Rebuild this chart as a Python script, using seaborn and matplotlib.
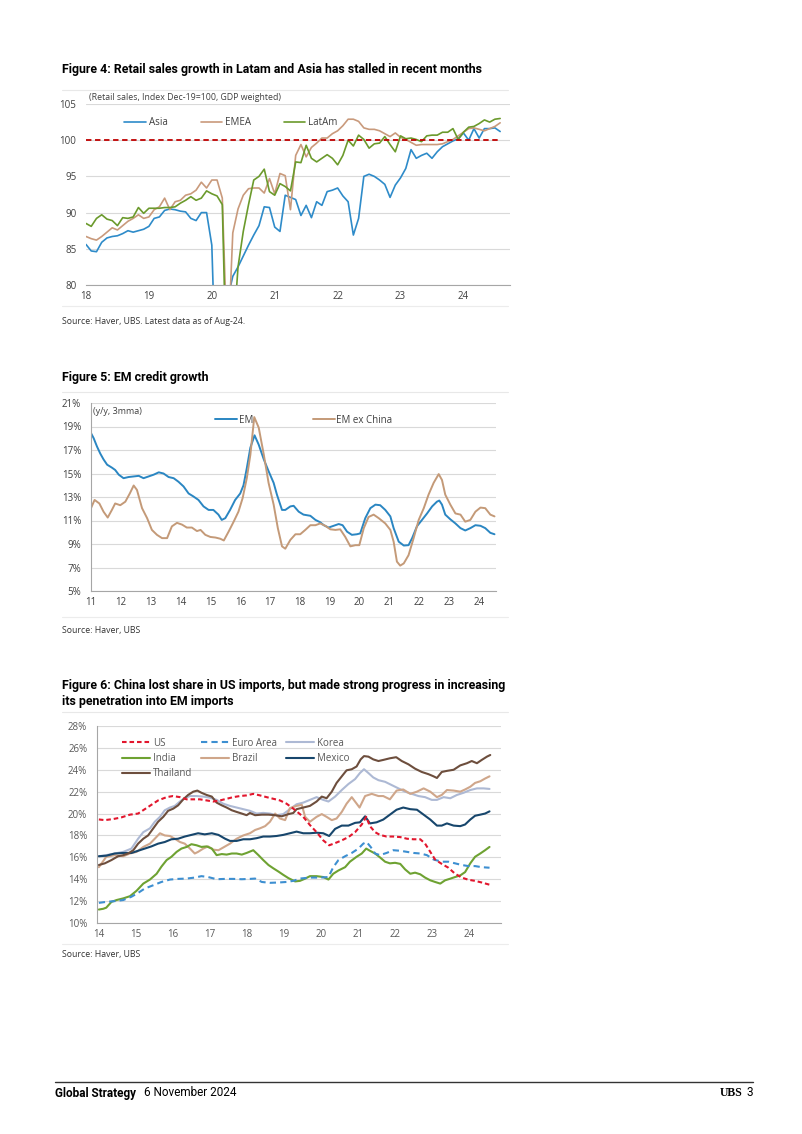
import matplotlib
matplotlib.use("Agg")
import matplotlib.pyplot as plt
import seaborn as sns

W, H = 802, 1134

# ---------------- Figure 4: retail sales index, monthly Jan-18 .. Aug-24 ----------------
retail_start_year = 18
retail_asia = [85.6, 84.7, 84.6, 85.9, 86.5, 86.7, 86.8, 87.1, 87.5, 87.3, 87.5, 87.7,
               88.1, 89.2, 89.4, 90.3, 90.5, 90.4, 90.2, 90.1, 89.2, 88.9, 90.0, 90.0,
               85.5, 62.0, 70.0, 78.0, 81.2, 82.5, 84.0, 85.5, 86.9, 88.2, 90.8, 90.7,
               88.0, 87.4, 92.4, 92.1, 91.8, 89.6, 91.0, 89.3, 91.5, 91.0, 92.9, 93.1,
               93.4, 92.3, 91.5, 86.9, 89.2, 95.0, 95.3, 95.0, 94.5, 93.9, 92.1, 93.8,
               94.8, 96.1, 98.7, 97.5, 97.9, 98.2, 97.5, 98.4, 99.1, 99.5, 99.9, 100.2,
               101.0, 100.0, 101.6, 100.3, 101.6, 101.6, 101.7, 101.2]
retail_emea = [86.7, 86.4, 86.2, 86.7, 87.3, 87.9, 87.6, 88.2, 88.8, 89.2, 89.7, 89.2,
               89.4, 90.4, 90.8, 92.0, 90.4, 91.5, 91.7, 92.4, 92.6, 93.1, 94.2, 93.4,
               94.5, 94.5, 92.0, 70.0, 87.2, 90.5, 92.4, 93.3, 93.4, 93.4, 92.7, 94.7,
               92.6, 95.4, 95.1, 90.4, 97.9, 99.4, 97.7, 99.0, 99.6, 100.3, 100.3, 100.9,
               101.3, 102.0, 102.9, 102.9, 102.6, 101.7, 101.5, 101.5, 101.3, 100.9, 100.5, 101.0,
               100.4, 100.1, 99.7, 99.3, 99.4, 99.4, 99.4, 99.4, 99.5, 99.8, 100.1, 100.6,
               101.1, 101.6, 101.7, 101.5, 101.3, 101.6, 101.9, 102.4]
retail_latam = [88.5, 88.1, 89.2, 89.7, 89.1, 88.9, 88.2, 89.3, 89.2, 89.4, 90.7, 89.9,
                90.6, 90.6, 90.6, 90.7, 90.7, 90.8, 91.3, 91.7, 92.2, 91.7, 92.0, 93.0,
                92.6, 92.3, 91.1, 62.0, 72.0, 82.5, 87.4, 91.1, 94.5, 95.0, 96.0, 92.9,
                92.4, 94.0, 93.6, 93.0, 97.0, 96.9, 99.3, 97.5, 97.0, 97.5, 98.0, 97.5,
                96.6, 97.9, 100.0, 99.2, 100.7, 100.1, 98.9, 99.5, 99.6, 100.5, 99.4, 98.4,
                100.6, 100.2, 100.3, 100.1, 99.8, 100.6, 100.7, 100.7, 101.1, 101.1, 101.6, 100.1,
                101.1, 101.8, 101.9, 102.3, 102.8, 102.5, 102.9, 103.0]
retail_base = 100

# ---------------- Figure 5: EM credit growth (y/y, 3mma), read as year / % pairs ----------------
em_t = [11.0, 11.09, 11.2, 11.31, 11.42, 11.54, 11.7, 11.81, 11.93, 12.09, 12.26, 12.43, 12.6,
        12.76, 12.93, 13.1, 13.27, 13.43, 13.6, 13.77, 13.93, 14.1, 14.27, 14.43, 14.6, 14.77,
        14.94, 15.1, 15.27, 15.38, 15.5, 15.66, 15.83, 16.0, 16.11, 16.22, 16.34, 16.48, 16.62,
        16.79, 16.95, 17.12, 17.23, 17.4, 17.51, 17.68, 17.79, 17.96, 18.12, 18.35, 18.52, 18.68,
        18.8, 18.96, 19.13, 19.3, 19.43, 19.58, 19.74, 19.91, 20.02, 20.19, 20.36, 20.53, 20.69,
        20.86, 21.03, 21.14, 21.31, 21.48, 21.64, 21.76, 21.92, 22.09, 22.26, 22.43, 22.59, 22.67,
        22.76, 22.87, 23.04, 23.21, 23.38, 23.54, 23.71, 23.88, 24.05, 24.21, 24.38, 24.52]
em = [18.44, 18.0, 17.3, 16.7, 16.2, 15.75, 15.5, 15.3, 14.9, 14.6, 14.7, 14.75, 14.8,
      14.6, 14.75, 14.9, 15.1, 15.0, 14.7, 14.6, 14.3, 13.9, 13.3, 13.05, 12.75, 12.2,
      11.9, 11.9, 11.5, 11.05, 11.2, 11.9, 12.75, 13.3, 14.0, 15.45, 17.2, 18.25, 17.45,
      16.2, 15.2, 14.2, 13.2, 11.9, 11.9, 12.2, 12.25, 11.75, 11.5, 11.4, 11.05, 10.85,
      10.6, 10.4, 10.55, 10.7, 10.6, 10.05, 9.78, 9.83, 9.9, 11.2, 12.05, 12.35, 12.3,
      11.9, 11.35, 10.35, 9.2, 8.87, 8.9, 9.5, 10.5, 11.05, 11.6, 12.2, 12.6, 12.7,
      12.35, 11.5, 11.1, 10.75, 10.35, 10.15, 10.35, 10.6, 10.55, 10.35, 9.95, 9.83]
exchina_t = [11.0, 11.12, 11.28, 11.42, 11.56, 11.7, 11.81, 11.98, 12.15, 12.3, 12.43, 12.54,
             12.71, 12.88, 13.04, 13.21, 13.38, 13.55, 13.71, 13.88, 14.05, 14.21, 14.38, 14.55,
             14.67, 14.83, 15.0, 15.17, 15.33, 15.45, 15.61, 15.78, 15.94, 16.08, 16.22, 16.34,
             16.47, 16.62, 16.79, 16.95, 17.12, 17.26, 17.4, 17.51, 17.68, 17.85, 18.01, 18.18,
             18.35, 18.52, 18.68, 18.85, 19.02, 19.19, 19.35, 19.52, 19.69, 19.86, 19.99, 20.14,
             20.3, 20.47, 20.64, 20.86, 21.03, 21.14, 21.25, 21.36, 21.48, 21.64, 21.81, 21.98,
             22.15, 22.31, 22.48, 22.65, 22.76, 22.87, 23.04, 23.21, 23.38, 23.54, 23.71, 23.88,
             24.05, 24.21, 24.38, 24.52]
exchina = [12.05, 12.75, 12.45, 11.75, 11.25, 11.9, 12.45, 12.3, 12.6, 13.3, 13.98, 13.6,
           12.05, 11.2, 10.2, 9.78, 9.5, 9.5, 10.5, 10.8, 10.65, 10.4, 10.4, 10.1,
           10.2, 9.78, 9.6, 9.55, 9.45, 9.3, 10.05, 10.9, 11.75, 12.9, 14.6, 16.6,
           19.8, 18.9, 16.6, 14.2, 12.35, 10.35, 8.8, 8.6, 9.35, 9.83, 9.83, 10.2,
           10.6, 10.6, 10.75, 10.55, 10.25, 10.2, 10.25, 9.6, 8.8, 8.9, 8.9, 10.35,
           11.3, 11.5, 11.2, 10.75, 10.2, 9.2, 7.5, 7.16, 7.35, 8.05, 9.5, 11.05,
           12.05, 13.2, 14.2, 14.95, 14.45, 13.2, 12.35, 11.6, 11.5, 10.9, 11.05, 11.75,
           12.1, 12.05, 11.5, 11.35]

# ---------------- Figure 6: China's share in imports (%), read as year / % pairs ----------------
us_t = [14.0, 14.16, 14.39, 14.61, 14.84, 15.06, 15.24, 15.42, 15.6, 15.83, 16.0, 16.19, 16.37,
        16.55, 16.73, 16.91, 17.09, 17.27, 17.45, 17.63, 17.81, 17.99, 18.17, 18.35, 18.53,
        18.71, 18.89, 19.07, 19.25, 19.52, 19.7, 19.88, 20.06, 20.22, 20.38, 20.56, 20.74,
        20.92, 21.1, 21.22, 21.32, 21.46, 21.59, 21.77, 21.95, 22.14, 22.32, 22.5, 22.68,
        22.81, 22.95, 23.08, 23.26, 23.44, 23.62, 23.8, 23.98, 24.16, 24.34, 24.55]
us = [19.46, 19.4, 19.5, 19.65, 19.9, 20.0, 20.4, 20.8, 21.2, 21.5, 21.6, 21.5, 21.3,
      21.3, 21.3, 21.2, 21.1, 21.2, 21.35, 21.5, 21.6, 21.66, 21.8, 21.66, 21.5,
      21.35, 21.2, 20.9, 20.45, 19.7, 18.95, 18.3, 17.55, 17.1, 17.3, 17.55, 17.85,
      18.3, 19.0, 19.7, 18.85, 18.3, 18.05, 17.9, 17.9, 17.85, 17.7, 17.65, 17.65,
      17.25, 16.5, 15.8, 15.4, 15.05, 14.5, 14.15, 13.95, 13.85, 13.7, 13.5]
euro_t = [14.0, 14.2, 14.43, 14.66, 14.88, 15.06, 15.24, 15.47, 15.69, 15.92, 16.14, 16.37,
          16.59, 16.77, 16.95, 17.18, 17.41, 17.63, 17.86, 18.08, 18.22, 18.4, 18.62, 18.85,
          19.07, 19.25, 19.43, 19.7, 19.97, 20.2, 20.33, 20.47, 20.65, 20.83, 21.01, 21.14,
          21.23, 21.34, 21.46, 21.59, 21.77, 21.95, 22.14, 22.32, 22.5, 22.68, 22.86, 23.04,
          23.26, 23.44, 23.62, 23.8, 23.98, 24.16, 24.34, 24.55]
euro = [11.84, 11.93, 12.0, 12.1, 12.4, 12.75, 13.15, 13.45, 13.75, 13.97, 14.03, 14.06,
        14.15, 14.28, 14.2, 14.0, 14.03, 14.03, 14.0, 14.03, 14.06, 13.75, 13.67, 13.7,
        13.75, 13.85, 14.06, 14.15, 14.15, 14.2, 15.1, 15.75, 16.1, 16.4, 16.8, 17.25,
        17.4, 16.95, 16.35, 16.2, 16.4, 16.65, 16.6, 16.5, 16.4, 16.35, 16.2, 15.8,
        15.6, 15.6, 15.45, 15.3, 15.2, 15.2, 15.1, 15.05]
korea_t = [14.0, 14.2, 14.43, 14.66, 14.88, 15.06, 15.2, 15.38, 15.51, 15.65, 15.78, 15.92,
           16.05, 16.19, 16.32, 16.46, 16.64, 16.82, 17.0, 17.18, 17.36, 17.54, 17.72, 17.9,
           18.08, 18.26, 18.44, 18.62, 18.8, 18.98, 19.16, 19.34, 19.52, 19.7, 19.88, 20.06,
           20.2, 20.38, 20.56, 20.74, 20.92, 21.05, 21.16, 21.28, 21.41, 21.55, 21.73, 21.91,
           22.09, 22.27, 22.45, 22.63, 22.81, 22.99, 23.13, 23.31, 23.49, 23.67, 23.85, 24.03,
           24.21, 24.39, 24.55]
korea = [16.1, 16.2, 16.35, 16.5, 16.8, 17.7, 18.3, 18.65, 19.25, 19.7, 20.3, 20.55,
         20.7, 21.1, 21.4, 21.6, 21.6, 21.55, 21.45, 21.25, 20.9, 20.7, 20.55, 20.4,
         20.25, 20.0, 20.06, 20.0, 19.85, 19.95, 20.4, 20.85, 21.0, 21.25, 21.5, 21.25,
         21.1, 21.55, 22.15, 22.7, 23.15, 23.7, 24.05, 23.7, 23.3, 23.05, 22.9, 22.6,
         22.3, 22.0, 21.8, 21.6, 21.5, 21.25, 21.25, 21.5, 21.4, 21.7, 21.9, 22.15,
         22.3, 22.3, 22.25]
india_t = [14.0, 14.12, 14.2, 14.34, 14.48, 14.66, 14.84, 15.02, 15.2, 15.38, 15.56, 15.69,
           15.83, 15.96, 16.1, 16.23, 16.37, 16.5, 16.64, 16.77, 16.91, 17.05, 17.18, 17.32,
           17.45, 17.59, 17.72, 17.86, 17.99, 18.17, 18.31, 18.44, 18.58, 18.71, 18.85, 18.98,
           19.12, 19.3, 19.43, 19.57, 19.7, 19.88, 20.06, 20.2, 20.33, 20.47, 20.65, 20.78,
           20.96, 21.1, 21.22, 21.32, 21.46, 21.59, 21.73, 21.86, 22.0, 22.14, 22.27, 22.41,
           22.54, 22.68, 22.81, 22.95, 23.08, 23.22, 23.35, 23.49, 23.62, 23.76, 23.89, 24.03,
           24.16, 24.3, 24.43, 24.55]
india = [11.23, 11.3, 11.4, 11.93, 12.1, 12.25, 12.45, 12.95, 13.6, 13.97, 14.5, 15.15,
         15.75, 16.05, 16.5, 16.8, 16.95, 17.2, 17.1, 16.95, 17.0, 16.8, 16.2, 16.3,
         16.25, 16.35, 16.35, 16.25, 16.4, 16.65, 16.2, 15.75, 15.3, 15.0, 14.7, 14.4,
         14.1, 13.8, 13.85, 14.05, 14.28, 14.28, 14.2, 13.97, 14.5, 14.8, 15.1, 15.6,
         16.05, 16.35, 16.8, 16.6, 16.35, 16.0, 15.6, 15.45, 15.5, 15.4, 14.9, 14.5,
         14.6, 14.45, 14.15, 13.9, 13.75, 13.6, 13.9, 14.05, 14.2, 14.35, 14.65, 15.45,
         16.05, 16.35, 16.65, 16.95]
brazil_t = [14.0, 14.2, 14.43, 14.66, 14.84, 15.02, 15.2, 15.38, 15.51, 15.65, 15.78, 15.92,
            16.05, 16.19, 16.32, 16.46, 16.59, 16.68, 16.82, 16.95, 17.09, 17.23, 17.36, 17.54,
            17.72, 17.9, 18.08, 18.22, 18.35, 18.49, 18.62, 18.76, 18.89, 19.03, 19.16, 19.34,
            19.48, 19.57, 19.7, 19.88, 20.02, 20.15, 20.29, 20.42, 20.56, 20.69, 20.83, 21.04,
            21.19, 21.37, 21.55, 21.68, 21.86, 22.04, 22.22, 22.41, 22.59, 22.77, 22.95, 23.13,
            23.26, 23.4, 23.58, 23.76, 23.89, 24.03, 24.16, 24.3, 24.43, 24.55]
brazil = [15.1, 16.05, 16.2, 16.1, 16.35, 16.5, 16.95, 17.25, 17.7, 18.2, 18.0, 17.95,
          17.7, 17.4, 17.25, 16.8, 16.35, 16.5, 16.8, 17.0, 16.7, 16.65, 16.9, 17.25,
          17.7, 18.0, 18.2, 18.5, 18.65, 18.85, 19.25, 20.0, 19.55, 19.4, 20.5, 20.7,
          20.8, 19.7, 19.25, 19.7, 19.95, 19.7, 19.4, 19.55, 20.15, 20.9, 21.5, 20.55,
          21.6, 21.8, 21.6, 21.6, 21.3, 22.1, 22.2, 21.8, 22.0, 22.3, 22.0, 21.5,
          21.7, 22.15, 22.1, 22.0, 22.2, 22.45, 22.8, 22.95, 23.2, 23.4]
mexico_t = [14.0, 14.2, 14.43, 14.66, 14.88, 15.06, 15.24, 15.42, 15.6, 15.78, 15.96, 16.14,
            16.32, 16.5, 16.68, 16.86, 17.05, 17.23, 17.41, 17.54, 17.72, 17.9, 18.08, 18.26,
            18.44, 18.62, 18.8, 18.98, 19.16, 19.34, 19.52, 19.7, 19.88, 20.06, 20.22, 20.38,
            20.56, 20.74, 20.92, 21.05, 21.19, 21.32, 21.5, 21.68, 21.86, 22.04, 22.22, 22.41,
            22.59, 22.77, 22.95, 23.13, 23.26, 23.4, 23.58, 23.76, 23.89, 24.03, 24.16, 24.3,
            24.43, 24.55]
mexico = [16.1, 16.15, 16.35, 16.4, 16.4, 16.6, 16.8, 17.0, 17.25, 17.4, 17.65, 17.7,
          17.9, 18.05, 18.2, 18.1, 18.2, 18.05, 17.7, 17.5, 17.5, 17.65, 17.65, 17.75,
          17.9, 17.9, 17.95, 18.05, 18.2, 18.35, 18.2, 18.2, 18.25, 18.2, 17.95, 18.6,
          18.9, 18.9, 19.15, 19.2, 19.75, 19.1, 19.2, 19.45, 19.9, 20.35, 20.55, 20.4,
          20.35, 19.9, 19.45, 18.9, 18.9, 19.1, 18.9, 18.85, 19.0, 19.45, 19.8, 19.9,
          20.0, 20.2]
thailand_t = [14.0, 14.16, 14.34, 14.52, 14.66, 14.79, 14.93, 15.06, 15.2, 15.33, 15.47, 15.6,
              15.74, 15.87, 16.01, 16.14, 16.28, 16.41, 16.55, 16.66, 16.77, 16.91, 17.05, 17.18,
              17.32, 17.45, 17.59, 17.72, 17.86, 17.99, 18.08, 18.22, 18.4, 18.58, 18.76, 18.94,
              19.12, 19.25, 19.34, 19.52, 19.7, 19.88, 20.02, 20.15, 20.29, 20.42, 20.56, 20.69,
              20.83, 20.96, 21.07, 21.16, 21.28, 21.41, 21.55, 21.68, 21.86, 22.03, 22.18, 22.36,
              22.54, 22.72, 22.9, 23.04, 23.13, 23.26, 23.4, 23.58, 23.76, 23.94, 24.07, 24.21,
              24.34, 24.48, 24.57]
thailand = [15.3, 15.45, 15.75, 16.1, 16.2, 16.35, 16.65, 17.25, 17.7, 18.0, 18.65, 19.25,
            19.7, 20.25, 20.45, 20.75, 21.3, 21.7, 22.0, 22.1, 21.9, 21.7, 21.55, 21.0,
            20.75, 20.55, 20.3, 20.15, 20.0, 19.85, 20.05, 19.85, 19.9, 19.9, 19.85, 19.75,
            19.95, 20.05, 20.4, 20.55, 20.7, 21.1, 21.55, 21.4, 22.0, 22.8, 23.4, 23.95,
            24.05, 24.3, 24.95, 25.25, 25.2, 24.95, 24.8, 24.9, 25.05, 25.15, 24.8, 24.5,
            24.1, 23.8, 23.6, 23.4, 23.25, 23.8, 23.9, 24.0, 24.4, 24.6, 24.8, 24.6,
            24.9, 25.2, 25.35]

# ---------------- style ----------------
sns.set_style("white")
plt.rcParams['font.family'] = ['Open Sans', 'DejaVu Sans']
TITLE_FONT = ['Roboto', 'DejaVu Sans']
GRID = '#d9d9d9'
AXIS = '#a6a6a6'
TICK = '#404040'

fig = plt.figure(figsize=(W / 100, H / 100), dpi=100)
fig.patch.set_facecolor('white')


def px_axes(left, top, right, bottom):
    return fig.add_axes([left / W, 1 - bottom / H, (right - left) / W, (bottom - top) / H])


def fig_text(x, y, s, **kw):
    kw.setdefault('va', 'center')
    fig.text(x / W, 1 - y / H, s, **kw)


def fig_hline(x0, x1, y, color, lw):
    fig.add_artist(plt.Line2D([x0 / W, x1 / W], [1 - y / H, 1 - y / H],
                              transform=fig.transFigure, color=color, lw=lw))


def style_axes(ax, yticks, ylabels, years, left_spine, pad_y):
    ax.set_yticks(yticks)
    ax.set_yticklabels(ylabels)
    ax.set_xticks(years)
    ax.set_xticklabels([f'{y:02d}' for y in years])
    ax.grid(axis='y', color=GRID, linewidth=0.8)
    ax.grid(axis='x', visible=False)
    ax.set_axisbelow(True)
    for s in ['top', 'right']:
        ax.spines[s].set_visible(False)
    ax.spines['left'].set_visible(left_spine)
    ax.spines['left'].set_color(AXIS)
    ax.spines['left'].set_linewidth(0.8)
    ax.spines['bottom'].set_color(AXIS)
    ax.spines['bottom'].set_linewidth(0.8)
    ax.tick_params(axis='both', length=0, labelsize=7, colors=TICK)
    ax.tick_params(axis='y', pad=pad_y)
    ax.tick_params(axis='x', pad=4)
    ax.set_xlabel('')
    ax.set_ylabel('')
    ax.set_facecolor('white')


TITLE_SIZE = 8.9

# ---------------- Figure 4 ----------------
fig_text(62, 70, 'Figure 4: Retail sales growth in Latam and Asia has stalled in recent months',
         fontsize=TITLE_SIZE, fontweight='bold', family=TITLE_FONT, color='black')
fig_hline(62, 508, 90, '#e8e8e8', 0.8)

ax1 = px_axes(86, 104, 510, 285)
months = [retail_start_year + i / 12 for i in range(len(retail_asia))]
ax1.hlines(retail_base, months[0], months[-1], colors='#c00000', linestyles=(0, (3, 2)), lw=1.3,
           zorder=3)
sns.lineplot(x=months, y=retail_asia, ax=ax1, color='#2e8bc9', linewidth=1.2, label='Asia')
sns.lineplot(x=months, y=retail_emea, ax=ax1, color='#c99a7c', linewidth=1.2, label='EMEA')
sns.lineplot(x=months, y=retail_latam, ax=ax1, color='#6b9a2c', linewidth=1.2, label='LatAm')
ax1.set_xlim(18, 24.74)
ax1.set_ylim(80, 105)
style_axes(ax1, [80, 85, 90, 95, 100, 105], ['80', '85', '90', '95', '100', '105'],
           list(range(18, 25)), False, 7)
ax1.legend(loc='upper left', bbox_to_anchor=(0.07, 0.975), ncol=3, frameon=False, fontsize=7,
           handlelength=2.2, handletextpad=0.3, columnspacing=3.4, labelcolor=TICK)
fig_text(89, 97, '(Retail sales, Index Dec-19=100, GDP weighted)', fontsize=6.3, color=TICK)
fig_hline(62, 508, 306, '#ececec', 0.8)
fig_text(62, 322, 'Source: Haver, UBS. Latest data as of Aug-24.', fontsize=6.3, color='#333333')

# ---------------- Figure 5 ----------------
fig_text(62, 377, 'Figure 5: EM credit growth', fontsize=TITLE_SIZE, fontweight='bold',
         family=TITLE_FONT, color='black')
fig_hline(62, 508, 392, '#e8e8e8', 0.8)

ax2 = px_axes(91, 403, 496, 591)
sns.lineplot(x=em_t, y=em, ax=ax2, color='#2a86c2', linewidth=1.4, label='EM')
sns.lineplot(x=exchina_t, y=exchina, ax=ax2, color='#c49a78', linewidth=1.4, label='EM ex China')
ax2.set_xlim(11, 24.57)
ax2.set_ylim(5, 21)
style_axes(ax2, list(range(5, 22, 2)), [f'{v}%' for v in range(5, 22, 2)],
           list(range(11, 25)), True, 7)
ax2.legend(loc='upper left', bbox_to_anchor=(0.285, 0.985), ncol=2, frameon=False, fontsize=7,
           handlelength=2.2, handletextpad=0.2, columnspacing=6.2, labelcolor=TICK)
fig_text(93, 411, '(y/y, 3mma)', fontsize=6.5, color=TICK)
fig_hline(62, 508, 617, '#ececec', 0.8)
fig_text(62, 630, 'Source: Haver, UBS', fontsize=6.3, color='#333333')

# ---------------- Figure 6 ----------------
fig_text(62, 685, 'Figure 6: China lost share in US imports, but made strong progress in increasing',
         fontsize=TITLE_SIZE, fontweight='bold', family=TITLE_FONT, color='black')
fig_text(62, 702, 'its penetration into EM imports', fontsize=TITLE_SIZE, fontweight='bold',
         family=TITLE_FONT, color='black')
fig_hline(62, 508, 712, '#e8e8e8', 0.8)

ax3 = px_axes(97, 726, 501, 923)
series6 = [
    ('US', us_t, us, '#e2162d', (0, (2.2, 1.4))),
    ('India', india_t, india, '#6ea232', '-'),
    ('Thailand', thailand_t, thailand, '#6d4e3d', '-'),
    ('Euro Area', euro_t, euro, '#3d8fd1', (0, (3, 2))),
    ('Brazil', brazil_t, brazil, '#cfa68a', '-'),
    ('Korea', korea_t, korea, '#adb9d4', '-'),
    ('Mexico', mexico_t, mexico, '#17466c', '-'),
]
draw_order = ['Korea', 'Brazil', 'Mexico', 'India', 'Thailand', 'Euro Area', 'US']
lookup = {s[0]: s for s in series6}
for name in draw_order:
    _, t, v, c, ls = lookup[name]
    sns.lineplot(x=t, y=v, ax=ax3, color=c, linewidth=1.5, linestyle=ls, label=name)
ax3.set_xlim(13.95, 24.86)
ax3.set_ylim(10, 28)
style_axes(ax3, list(range(10, 29, 2)), [f'{v}%' for v in range(10, 29, 2)],
           list(range(14, 25)), True, 7)
handles, labels = ax3.get_legend_handles_labels()
hmap = dict(zip(labels, handles))
order = [s[0] for s in series6]
ax3.legend([hmap[n] for n in order], order, loc='upper left', bbox_to_anchor=(0.04, 0.985),
           ncol=3, frameon=False, fontsize=7, handlelength=2.9, handletextpad=0.3,
           columnspacing=0.9, labelspacing=0.45, labelcolor='#595959')
ax3.tick_params(colors='#595959')
fig_hline(62, 508, 944, '#ececec', 0.8)
fig_text(62, 955, 'Source: Haver, UBS', fontsize=6.3, color='#333333')

# ---------------- footer ----------------
fig_hline(55, 753, 1082, '#333333', 1.0)
fig_text(55, 1093, 'Global Strategy', fontsize=8.5, fontweight='bold', family=TITLE_FONT,
         color='black')
fig_text(144, 1093, '6 November 2024', fontsize=8.5, family=TITLE_FONT, color='black')
fig_text(743, 1093, 'UBS', fontsize=8.5, fontweight='bold', family=['Liberation Serif', 'DejaVu Serif'],
         color='black', ha='right')
fig_text(753, 1093, '3', fontsize=8.5, family=TITLE_FONT, color='black', ha='right')

fig.savefig('out.png', dpi=100, facecolor='white')
